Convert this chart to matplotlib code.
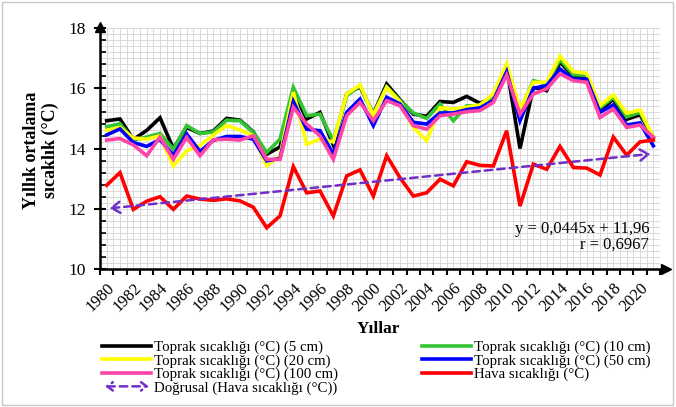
import numpy as np
import matplotlib.pyplot as plt
from matplotlib.patches import FancyArrowPatch, Rectangle
from matplotlib.lines import Line2D
from matplotlib.legend_handler import HandlerBase

plt.rcParams["font.family"] = ["Liberation Serif", "DejaVu Serif"]

# ---------- data ----------
years = list(range(1980, 2022))

soil_5 = [14.92, 14.98, 14.30, 14.60, 15.02, 14.00, 14.70, 14.50, 14.58, 15.00,
          14.94, 14.55, 13.81, 14.05, 15.90, 14.98, 15.20, 14.11, 15.81, 16.05,
          15.15, 16.14, 15.62, 15.14, 15.07, 15.56, 15.53, 15.73, 15.50, 15.70,
          16.70, 14.00, 16.03, 15.92, 16.87, 16.40, 16.37, 15.25, 15.64, 14.97,
          15.12, 14.37]
soil_10 = [14.72, 14.82, 14.28, 14.38, 14.50, 13.98, 14.76, 14.50, 14.55, 14.94,
           14.92, 14.53, 13.87, 14.31, 16.03, 15.09, 15.14, 14.26, 15.75, 16.09,
           15.13, 16.05, 15.59, 15.18, 15.00, 15.48, 14.92, 15.42, 15.40, 15.65,
           16.65, 15.25, 16.25, 16.15, 16.95, 16.45, 16.43, 15.35, 15.70, 15.05,
           15.20, 14.37]
soil_20 = [14.60, 14.70, 14.35, 14.31, 14.42, 13.42, 13.92, 14.10, 14.45, 14.76,
           14.62, 14.42, 13.42, 13.76, 15.87, 14.14, 14.31, 14.22, 15.81, 16.11,
           15.11, 16.03, 15.55, 14.70, 14.26, 15.35, 15.31, 15.37, 15.45, 15.81,
           16.81, 15.31, 16.20, 16.20, 17.07, 16.55, 16.50, 15.42, 15.78, 15.17,
           15.28, 14.37]
soil_50 = [14.45, 14.65, 14.20, 14.07, 14.30, 13.77, 14.48, 13.90, 14.27, 14.40,
           14.40, 14.31, 13.59, 13.67, 15.56, 14.64, 14.59, 13.81, 15.20, 15.64,
           14.76, 15.70, 15.48, 14.87, 14.81, 15.18, 15.18, 15.29, 15.35, 15.59,
           16.55, 14.92, 16.00, 16.09, 16.64, 16.30, 16.30, 15.20, 15.45, 14.78,
           14.85, 14.09]
soil_100 = [14.28, 14.33, 14.12, 13.76, 14.38, 13.64, 14.37, 13.76, 14.29, 14.31,
            14.28, 14.42, 13.64, 13.64, 15.37, 14.81, 14.42, 13.64, 15.09, 15.53,
            14.92, 15.59, 15.42, 14.76, 14.64, 15.09, 15.14, 15.22, 15.26, 15.53,
            16.44, 15.14, 15.81, 15.98, 16.48, 16.25, 16.20, 15.03, 15.31, 14.70,
            14.78, 14.37]
air = [12.78, 13.20, 11.98, 12.25, 12.40, 11.98, 12.42, 12.32, 12.28, 12.33,
       12.26, 12.05, 11.37, 11.76, 13.40, 12.53, 12.59, 11.76, 13.09, 13.29,
       12.42, 13.76, 13.03, 12.42, 12.53, 12.98, 12.76, 13.56, 13.44, 13.42,
       14.59, 12.09, 13.48, 13.31, 14.07, 13.37, 13.35, 13.12, 14.38, 13.78,
       14.22, 14.28]

trend_slope = 0.0445
trend_intercept = 11.96
trend_r = 0.6967

series = [
    ("Toprak sıcaklığı (°C) (5 cm)", soil_5, "#000000"),
    ("Toprak sıcaklığı (°C) (10 cm)", soil_10, "#33c433"),
    ("Toprak sıcaklığı (°C) (20 cm)", soil_20, "#ffff00"),
    ("Toprak sıcaklığı (°C) (50 cm)", soil_50, "#0000ff"),
    ("Toprak sıcaklığı (°C) (100 cm)", soil_100, "#ff44a8"),
    ("Hava sıcaklığı (°C)", air, "#ff0000"),
]
trend_color = "#7030c8"
trend_label = "Doğrusal (Hava sıcaklığı (°C))"


class DashArrowHandler(HandlerBase):
    def create_artists(self, legend, orig, xdescent, ydescent, width, height, fontsize, trans):
        y = height / 2 - ydescent
        a = FancyArrowPatch((-xdescent, y), (width - xdescent, y),
                            arrowstyle="<->,head_length=4,head_width=3",
                            mutation_scale=1, lw=1.8, linestyle=(0, (3, 2)),
                            color=trend_color, transform=trans)
        return [a]


# ---------- figure ----------
fig = plt.figure(figsize=(6.76, 4.07), dpi=100)
ax = fig.add_axes([100 / 676, 1 - 269 / 407, 560 / 676, 241 / 407])

n = len(years)
x = np.arange(n)
ax.set_xlim(-0.5, n - 0.5)
ax.set_ylim(10, 18)

# grid
for gx in np.arange(-0.5, n - 0.5 + 0.01, 0.5):
    ax.plot([gx, gx], [10, 18], color="#d9d9d9", lw=0.7, zorder=0)
for gy in np.arange(10, 18.01, 0.2):
    ax.plot([-0.5, n - 0.5], [gy, gy], color="#d9d9d9", lw=0.7, zorder=0)

handles = {}
for label, vals, col in series:
    (ln,) = ax.plot(x, vals, color=col, lw=2.6, label=label, zorder=3,
                    solid_joinstyle="miter")
    handles[label] = ln

# trend line with arrows
t = trend_slope * (x + 1) + trend_intercept
trend = FancyArrowPatch((x[0], t[0]), (x[-1], t[-1]),
                        arrowstyle="<->,head_length=6,head_width=4",
                        mutation_scale=1, lw=1.8, linestyle=(0, (3, 2)),
                        color=trend_color, zorder=4)
ax.add_patch(trend)
trend_handle = Line2D([], [], color=trend_color)

# axes styling
for s in ("top", "right"):
    ax.spines[s].set_visible(False)
for s in ("left", "bottom"):
    ax.spines[s].set_linewidth(1.8)
ax.plot(1.01, 0, ">k", ms=7, transform=ax.transAxes, clip_on=False)
ax.plot(0, 1.005, "^k", ms=7, transform=ax.transAxes, clip_on=False)

ax.set_yticks(np.arange(10, 18.1, 2))
ax.set_yticks(np.arange(10, 18.01, 0.4), minor=True)
ax.tick_params(axis="y", which="major", direction="inout", length=8, width=1.5,
               labelsize=12.5, pad=6)
ax.tick_params(axis="y", which="minor", direction="in", length=4, width=1.2)

ax.set_xticks(x[::2])
ax.set_xticklabels([str(y) for y in years[::2]], rotation=45, ha="right",
                   rotation_mode="anchor")
ax.set_xticks(np.arange(-0.5, n, 1), minor=True)
ax.tick_params(axis="x", which="major", length=0, labelsize=12, pad=8)
ax.tick_params(axis="x", which="minor", direction="out", length=4, width=1.5)

fig.text(41 / 676, 1 - 150 / 407, "Yıllık ortalama\nsıcaklık (°C)", rotation=90,
         ha="center", va="center", fontsize=13, fontweight="bold",
         multialignment="center", linespacing=1.1)
fig.text(378 / 676, 1 - 329 / 407, "Yıllar", ha="center", va="center",
         fontsize=12.5, fontweight="bold")

eq = f"y = {trend_slope}x + {trend_intercept}".replace(".", ",")
fig.text(650 / 676, 1 - 229 / 407, eq, ha="right", va="center", fontsize=12)
fig.text(614 / 676, 1 - 245 / 407, f"r = {trend_r}".replace(".", ","),
         ha="center", va="center", fontsize=12)

order = [series[0][0], series[2][0], series[4][0], None,
         series[1][0], series[3][0], series[5][0]]
leg_h, leg_l = [], []
for lab in order:
    if lab is None:
        leg_h.append(trend_handle)
        leg_l.append(trend_label)
    else:
        leg_h.append(handles[lab])
        leg_l.append(lab)
fig.legend(leg_h, leg_l, loc="upper left", bbox_to_anchor=(95 / 676, 1 - 333 / 407),
           ncol=2, frameon=False, fontsize=10.7, handlelength=3.3,
           handletextpad=0.2, columnspacing=5.6, labelspacing=0.0,
           borderpad=0, handler_map={trend_handle: DashArrowHandler()})

fig.patches.append(Rectangle((0.003, 0.004), 0.993, 0.99, transform=fig.transFigure,
                             fill=False, edgecolor="#c8c8c8", lw=1))

fig.savefig("out.png", dpi=100)
